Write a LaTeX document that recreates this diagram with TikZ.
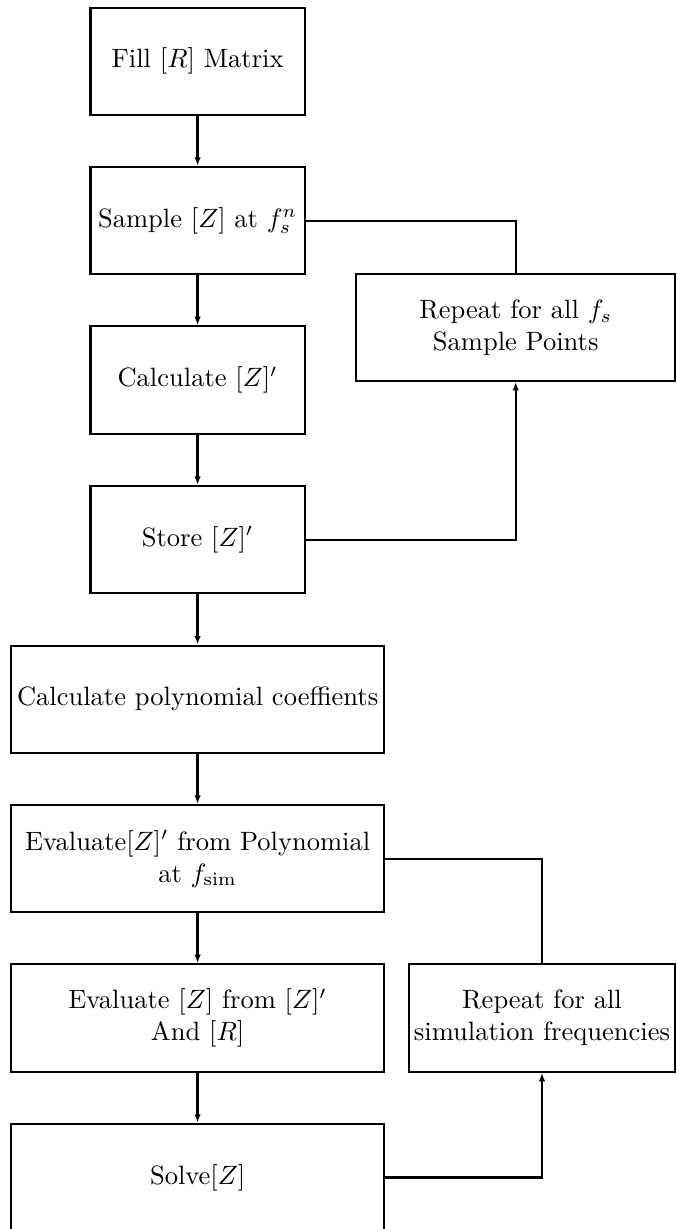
\documentclass[tikz,border=0pt]{standalone}
\usetikzlibrary{arrows.meta}
\begin{document}
\begin{tikzpicture}[x=0.377pt,y=-0.377pt,
  box/.style={draw,line width=0.85pt,minimum width=80.7pt,minimum height=40.45pt,align=center,inner sep=1pt},
  widebox/.style={box,minimum width=140.8pt},
  repbox/.style={box,minimum width=120.3pt,minimum height=40.2pt},
  rep2box/.style={box,minimum width=100.3pt,minimum height=40.45pt},
  conn/.style={line width=0.85pt},
  arr/.style={conn,-{Latex[length=3.2pt,width=2.4pt]}}]
\useasboundingbox (0,0) rectangle (677,1229);
\node[box] (b1) at (197.6,61.3) {Fill $[R]$ Matrix};
\node[box] (b2) at (197.6,220.7) {Sample $[Z]$ at $f_s^n$};
\node[box] (b3) at (197.6,380) {Calculate $[Z]'$};
\node[box] (b4) at (197.6,539.7) {Store $[Z]'$};
\node[widebox] (b5) at (197.6,699.3) {Calculate polynomial coeffients};
\node[widebox] (b6) at (197.6,858.7) {Evaluate$[Z]'$ from Polynomial\\at $f_\mathrm{sim}$};
\node[widebox] (b7) at (197.6,1018) {Evaluate $[Z]$ from $[Z]'$\\And $[R]$};
\node[widebox] (b8) at (197.6,1177.5) {Solve$[Z]$};
\node[repbox] (r1) at (515.7,327.4) {Repeat for all $f_s$\\Sample Points};
\node[rep2box] (r2) at (542,1018) {Repeat for all\\simulation frequencies};
\draw[arr] (b1) -- (b2);
\draw[arr] (b2) -- (b3);
\draw[arr] (b3) -- (b4);
\draw[arr] (b4) -- (b5);
\draw[arr] (b5) -- (b6);
\draw[arr] (b6) -- (b7);
\draw[arr] (b7) -- (b8);
\draw[conn] (b2.east) -| (r1.north);
\draw[arr] (b4.east) -| (r1.south);
\draw[conn] (b6.east) -| (r2.north);
\draw[arr] (b8.east) -| (r2.south);
\end{tikzpicture}
\end{document}
